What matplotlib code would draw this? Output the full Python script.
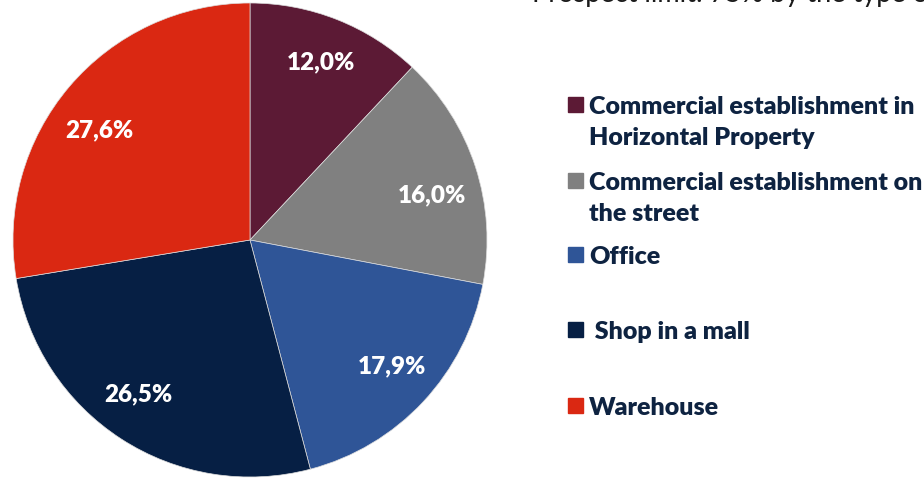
import numpy as np
import matplotlib.pyplot as plt
from matplotlib.patches import Rectangle

categories = ['Commercial establishment in\nHorizontal Property',
              'Commercial establishment on\nthe street',
              'Office',
              ' Shop in a mall',
              'Warehouse']
shares = [12.0, 16.0, 17.9, 26.5, 27.6]
colors = ['#5C1A35', '#808080', '#2F5597', '#061F44', '#DA2812']
title_text = 'Prospect limit: 75% by the type of property'

# small nudges of the value labels (degrees, radius fraction), like Excel's best fit
label_shift = [0, -4, 1.5, -3, 4]
label_dist = [0.81, 0.79, 0.80, 0.80, 0.79]

W, H = 924, 481
fig = plt.figure(figsize=(W / 100, H / 100), dpi=100)
plt.rcParams['font.family'] = ['Lato', 'DejaVu Sans']

# pie centred at (250, 241) px with radius 237 px
cx, cy, R = 250, 241, 237
ax = fig.add_axes([(cx - R) / W, (H - cy - R) / H, 2 * R / W, 2 * R / H])
wedges, texts = ax.pie(
    shares, colors=colors, startangle=90, counterclock=False,
    wedgeprops=dict(edgecolor='#dddddd', linewidth=0.5))
for w, v, da, d in zip(wedges, shares, label_shift, label_dist):
    ang = np.deg2rad((w.theta1 + w.theta2) / 2 + da)
    ax.text(d * np.cos(ang), d * np.sin(ang), ('%.1f%%' % v).replace('.', ','),
            color='white', fontsize=17.5, fontweight='heavy',
            ha='center', va='center')
ax.set_xlim(-1, 1)
ax.set_ylim(-1, 1)

# legend drawn by hand: squares aligned with first line of each label
legend_y = [106, 182, 256, 331, 407]
for lab, col, y in zip(categories, colors, legend_y):
    fig.patches.append(Rectangle((568 / W, 1 - (y + 7) / H), 15 / W, 15 / H,
                                 transform=fig.transFigure, color=col))
    fig.text(589 / W, 1 - (y - 10) / H, lab, fontsize=18, fontweight='heavy',
             color='#0E2341', va='top', ha='left', linespacing=1.5)

# title clipped at the top of the image
fig.text(532 / W, 1 - 2 / H, title_text, fontsize=19.5, color='#1a1a1a',
         va='baseline', ha='left')

fig.savefig('out.png', dpi=100)
